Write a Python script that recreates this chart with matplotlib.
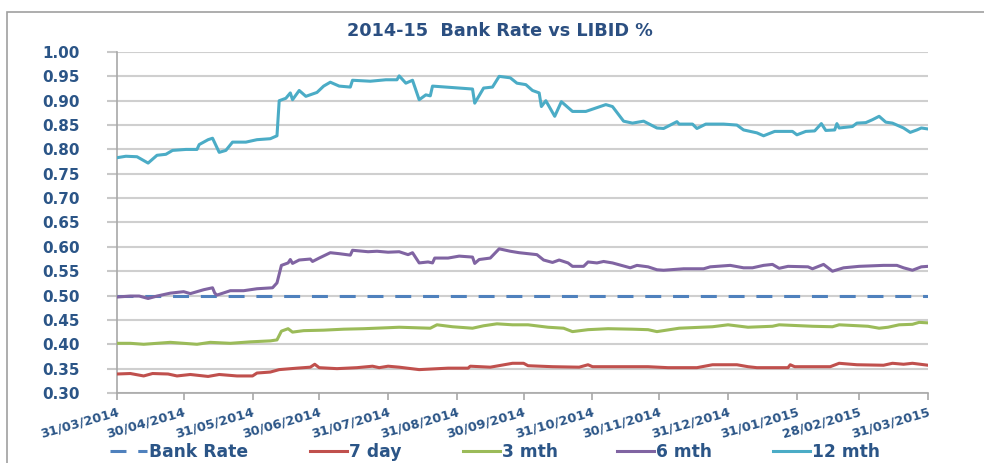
import matplotlib
matplotlib.use("Agg")
import matplotlib.pyplot as plt
from matplotlib.patches import Rectangle
import pandas as pd

start = pd.Timestamp("2014-03-31")

# Days since 31/03/2014 and values (%)
m12_days = [0, 4, 9, 14, 18, 22, 25, 31, 36, 37, 41, 43, 46, 49, 52, 58, 63, 69, 72, 73, 76, 78, 79, 82, 85, 90, 93, 96, 100, 105, 106, 114, 121, 126, 127, 130, 133, 136, 139, 141, 142, 148, 154, 160, 161, 165, 169, 172, 177, 180, 184, 187, 190, 191, 193, 197, 198, 200, 205, 211, 220, 223, 228, 232, 237, 243, 246, 252, 253, 259, 261, 265, 273, 279, 282, 288, 291, 296, 304, 306, 310, 314, 317, 319, 323, 324, 325, 331, 333, 337, 340, 343, 346, 349, 354, 357, 360, 362, 365]
m12_vals = [0.783, 0.786, 0.785, 0.772, 0.788, 0.790, 0.798, 0.800, 0.800, 0.810, 0.820, 0.823, 0.794, 0.798, 0.815, 0.815, 0.820, 0.822, 0.828, 0.900, 0.905, 0.916, 0.902, 0.921, 0.909, 0.917, 0.930, 0.938, 0.930, 0.928, 0.942, 0.940, 0.943, 0.943, 0.951, 0.936, 0.942, 0.902, 0.912, 0.910, 0.930, 0.928, 0.926, 0.924, 0.895, 0.926, 0.928, 0.950, 0.947, 0.936, 0.933, 0.921, 0.916, 0.888, 0.900, 0.868, 0.878, 0.898, 0.878, 0.878, 0.892, 0.888, 0.858, 0.854, 0.858, 0.844, 0.843, 0.857, 0.852, 0.852, 0.843, 0.852, 0.852, 0.850, 0.840, 0.834, 0.828, 0.837, 0.837, 0.830, 0.837, 0.838, 0.853, 0.839, 0.840, 0.853, 0.844, 0.847, 0.854, 0.855, 0.861, 0.868, 0.856, 0.854, 0.844, 0.835, 0.840, 0.844, 0.842]

m6_days = [0, 6, 10, 14, 18, 24, 30, 33, 39, 43, 44, 45, 51, 57, 63, 70, 72, 74, 77, 78, 79, 82, 87, 88, 91, 96, 100, 105, 106, 113, 117, 122, 127, 131, 133, 136, 140, 142, 143, 149, 154, 160, 161, 163, 168, 172, 177, 181, 189, 192, 196, 199, 203, 205, 210, 212, 216, 219, 223, 231, 234, 239, 243, 246, 255, 264, 267, 276, 282, 286, 291, 295, 298, 302, 311, 313, 318, 322, 327, 334, 345, 351, 354, 358, 362, 365]
m6_vals = [0.497, 0.499, 0.499, 0.494, 0.499, 0.505, 0.508, 0.504, 0.512, 0.516, 0.505, 0.501, 0.510, 0.510, 0.514, 0.516, 0.526, 0.562, 0.567, 0.574, 0.566, 0.573, 0.575, 0.570, 0.577, 0.588, 0.586, 0.583, 0.593, 0.590, 0.591, 0.589, 0.590, 0.584, 0.588, 0.567, 0.569, 0.567, 0.577, 0.577, 0.581, 0.579, 0.566, 0.574, 0.577, 0.596, 0.591, 0.588, 0.584, 0.573, 0.568, 0.573, 0.567, 0.560, 0.560, 0.569, 0.567, 0.570, 0.567, 0.557, 0.562, 0.559, 0.553, 0.552, 0.555, 0.555, 0.559, 0.562, 0.557, 0.557, 0.562, 0.564, 0.556, 0.560, 0.559, 0.555, 0.564, 0.550, 0.557, 0.560, 0.562, 0.562, 0.557, 0.552, 0.559, 0.560]

m3_days = [0, 6, 12, 18, 24, 30, 36, 42, 51, 60, 69, 72, 74, 77, 79, 84, 93, 102, 111, 122, 127, 141, 144, 151, 160, 165, 171, 178, 185, 194, 201, 205, 212, 221, 232, 239, 243, 253, 268, 275, 284, 295, 298, 313, 322, 325, 338, 343, 347, 352, 358, 361, 365]
m3_vals = [0.402, 0.402, 0.400, 0.402, 0.404, 0.402, 0.400, 0.404, 0.402, 0.405, 0.407, 0.409, 0.427, 0.432, 0.425, 0.428, 0.429, 0.431, 0.432, 0.434, 0.435, 0.433, 0.440, 0.436, 0.433, 0.438, 0.442, 0.440, 0.440, 0.435, 0.433, 0.426, 0.430, 0.432, 0.431, 0.430, 0.426, 0.433, 0.436, 0.440, 0.435, 0.437, 0.440, 0.437, 0.436, 0.440, 0.437, 0.433, 0.435, 0.440, 0.441, 0.445, 0.444]

d7_days = [0, 6, 12, 16, 23, 27, 33, 41, 46, 54, 61, 63, 69, 73, 81, 87, 89, 91, 99, 108, 115, 118, 122, 127, 136, 149, 158, 159, 168, 178, 183, 185, 196, 208, 212, 214, 239, 248, 261, 268, 279, 284, 288, 302, 303, 305, 321, 325, 333, 345, 349, 354, 358, 365]
d7_vals = [0.339, 0.340, 0.335, 0.340, 0.339, 0.335, 0.338, 0.334, 0.338, 0.335, 0.335, 0.341, 0.343, 0.348, 0.351, 0.353, 0.359, 0.352, 0.350, 0.352, 0.355, 0.352, 0.355, 0.353, 0.348, 0.351, 0.351, 0.355, 0.353, 0.361, 0.361, 0.356, 0.354, 0.353, 0.358, 0.354, 0.354, 0.352, 0.352, 0.358, 0.358, 0.354, 0.352, 0.352, 0.358, 0.354, 0.354, 0.361, 0.358, 0.357, 0.361, 0.359, 0.361, 0.357]

bank_days = [0, 365]
bank_vals = [0.50, 0.50]

tick_dates = ["2014-03-31", "2014-04-30", "2014-05-31", "2014-06-30", "2014-07-31",
              "2014-08-31", "2014-09-30", "2014-10-31", "2014-11-30", "2014-12-31",
              "2015-01-31", "2015-02-28", "2015-03-31"]
y_ticks = [0.30, 0.35, 0.40, 0.45, 0.50, 0.55, 0.60, 0.65, 0.70, 0.75, 0.80, 0.85, 0.90, 0.95, 1.00]

title = "2014-15  Bank Rate vs LIBID %"
series = [
    ("Bank Rate", bank_days, bank_vals, "#4F81BD"),
    ("7 day", d7_days, d7_vals, "#C0504D"),
    ("3 mth", m3_days, m3_vals, "#9BBB59"),
    ("6 mth", m6_days, m6_vals, "#8064A2"),
    ("12 mth", m12_days, m12_vals, "#4BACC6"),
]

def to_dates(days):
    return [start + pd.Timedelta(days=int(d)) for d in days]

plt.rcParams['font.family'] = ['DejaVu Sans']
plt.rcParams['lines.scale_dashes'] = False
txt_col = "#2B5587"

fig = plt.figure(figsize=(9.84, 4.63), dpi=100)
ax = fig.add_axes([117/984, 1 - 393/463, (928-117)/984, (393-52)/463])

# frame border
fig.add_artist(Rectangle((7/984, -0.1), 1.2, (463-12)/463 + 0.1, transform=fig.transFigure,
                         fill=False, edgecolor="#A0A0A0", lw=1.2))

handles = []
for name, days, vals, col in series:
    if name == "Bank Rate":
        h, = ax.plot(to_dates(days), vals, color=col, lw=2.2, linestyle=(0, (11.5, 8.5)),
                     label=name, zorder=3)
    else:
        h, = ax.plot(to_dates(days), vals, color=col, lw=2.2, label=name, zorder=4,
                     solid_joinstyle='round')
    handles.append(h)

ax.set_xlim(pd.Timestamp("2014-03-31"), pd.Timestamp("2015-03-31"))
ax.set_ylim(0.30, 1.00)
ax.set_yticks(y_ticks)
ax.set_yticklabels([f"{v:.2f}" for v in y_ticks])
tds = [pd.Timestamp(t) for t in tick_dates]
ax.set_xticks(tds)
ax.set_xticklabels([t.strftime("%d/%m/%Y") for t in tds], rotation=16, ha='right',
                   rotation_mode='anchor')

ax.grid(axis='y', color="#CFCFCF", lw=1.5)
ax.set_axisbelow(True)
for s in ['top', 'right']:
    ax.spines[s].set_visible(False)
ax.spines['left'].set_color("#A8A8A8")
ax.spines['bottom'].set_color("#A8A8A8")
ax.spines['left'].set_linewidth(1.2)
ax.spines['bottom'].set_linewidth(1.2)

ax.tick_params(axis='y', direction='out', length=7, color="#C8C8C8", width=1.5,
               labelsize=11, labelcolor=txt_col, pad=20)
ax.tick_params(axis='x', direction='out', length=5, color="#A8A8A8", width=1.2,
               labelsize=9.3, labelcolor=txt_col, pad=4)
for lab in ax.get_yticklabels() + ax.get_xticklabels():
    lab.set_fontweight('bold')

fig.text(500/984, 1 - 31/463, title, ha='center', va='center', fontsize=12.7,
         fontweight='bold', color="#2B4F81")

# legend: one entry per slot along the bottom
legend_x = [110, 310, 463, 617, 773]
for h, lx in zip(handles, legend_x):
    leg = fig.legend(handles=[h], loc='center left',
                     bbox_to_anchor=(lx/984, 1 - 452/463),
                     frameon=False, handlelength=2.17, handletextpad=0.12,
                     prop={'weight': 'bold', 'size': 12.3}, borderaxespad=0, borderpad=0)
    for t in leg.get_texts():
        t.set_color(txt_col)

fig.savefig("out.png", dpi=100)
